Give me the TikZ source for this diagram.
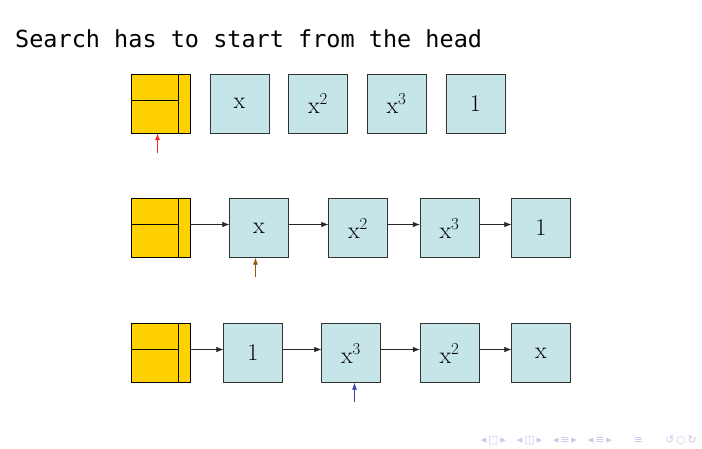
\documentclass[tikz,border=0pt]{standalone}
\usepackage{fontspec}
\usepackage{tikz}
\usetikzlibrary{arrows.meta, positioning}
\newfontfamily\titlefont{DejaVu Sans Mono}
\newfontfamily\navfont{DejaVu Sans}
\definecolor{headyellow}{RGB}{255,209,0}
\definecolor{cellcyan}{RGB}{197,229,232}
\definecolor{ptrbrown}{RGB}{150,85,20}
\definecolor{ptrblue}{RGB}{64,64,176}
\definecolor{navblue}{RGB}{200,200,235}

\tikzset{
  headbox/.style={draw=black, fill=headyellow, minimum size=59pt, inner sep=0pt},
  cellbox/.style={draw=black!80, fill=cellcyan, minimum size=59pt, inner sep=0pt,
                  font=\fontsize{24}{28}\selectfont},
  link/.style={-{Latex[length=7pt,width=5.5pt]}, black!85, line width=0.7pt},
  ptr/.style={-{Latex[length=7pt,width=5pt]}, line width=0.7pt}
}

\begin{document}
\begin{tikzpicture}[x=1pt,y=-1pt]
  \useasboundingbox (0,0) rectangle (702,448);

  % title
  \node[anchor=base west, inner sep=0pt, font=\titlefont\fontsize{23.5}{27}\selectfont]
    (title) at (15,47) {Search has to start from the head};

  % three head nodes with their inner lines
  \foreach \h/\cy in {h1/103.5, h2/228, h3/353} {
    \node[headbox] (\h) at (160.5,\cy) {};
    \draw ([xshift=-12.5pt]\h.north east) -- ([xshift=-12.5pt]\h.south east);
    \draw ([yshift=3.5pt]\h.west) -- ([xshift=-12.5pt,yshift=3.5pt]\h.east);
  }

  % row 1: nodes not linked yet
  \foreach \n/\cx/\lab in {a1/239.5/x, a2/318/x^2, a3/396.5/x^3, a4/475.5/1}
    \node[cellbox] (\n) at (\cx,103.5) {$\mathrm{\lab}$};

  % row 2
  \foreach \n/\cx/\lab in {b1/259/x, b2/358/x^2, b3/449.5/x^3, b4/541/1}
    \node[cellbox] (\n) at (\cx,228) {$\mathrm{\lab}$};

  % row 3
  \foreach \n/\cx/\lab in {c1/253/1, c2/351/x^3, c3/449.5/x^2, c4/541/x}
    \node[cellbox] (\n) at (\cx,353) {$\mathrm{\lab}$};

  % links
  \draw[link] ([yshift=3.5pt]h2.east) -- ([yshift=3.5pt]b1.west);
  \draw[link] ([yshift=3.5pt]b1.east) -- ([yshift=3.5pt]b2.west);
  \draw[link] ([yshift=3.5pt]b2.east) -- ([yshift=3.5pt]b3.west);
  \draw[link] ([yshift=3.5pt]b3.east) -- ([yshift=3.5pt]b4.west);
  \draw[link] ([yshift=3.5pt]h3.east) -- ([yshift=3.5pt]c1.west);
  \draw[link] ([yshift=3.5pt]c1.east) -- ([yshift=3.5pt]c2.west);
  \draw[link] ([yshift=3.5pt]c2.east) -- ([yshift=3.5pt]c3.west);
  \draw[link] ([yshift=3.5pt]c3.east) -- ([yshift=3.5pt]c4.west);

  % search pointers
  \coordinate (p1) at (157.5,153);
  \coordinate (p2) at (255.5,277);
  \coordinate (p3) at (354.5,402);
  \draw[ptr, red!85] (p1) -- (p1 |- h1.south);
  \draw[ptr, ptrbrown] (p2) -- (p2 |- b1.south);
  \draw[ptr, ptrblue] (p3) -- (p3 |- c2.south);

  % navigation symbols
  \node[anchor=east, inner sep=0pt, text=navblue, font=\navfont\fontsize{11}{12}\selectfont]
    (nav) at (697,440) {◂\,□\,▸\quad ◂\,◫\,▸\quad ◂\,≡\,▸\quad ◂\,≡\,▸\qquad ≡\qquad ↺\,○\,↻};
\end{tikzpicture}
\end{document}
